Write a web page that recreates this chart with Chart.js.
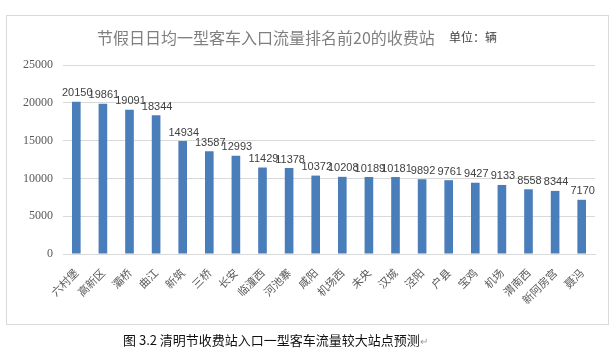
<!DOCTYPE html>
<html>
<head>
<meta charset="utf-8">
<script src="https://cdn.jsdelivr.net/npm/chart.js@4/dist/chart.umd.min.js"></script>
<style>
  html, body { margin: 0; padding: 0; background: #fff; }
  #wrap { position: relative; width: 616px; height: 358px; overflow: hidden; }
  #box { position: absolute; left: 6px; top: 15px; width: 603px; height: 310px; border: 1px solid #d9d9d9; box-sizing: border-box; }
  #cv { position: absolute; left: 0; top: 0; }
  #title { position: absolute; left: 97px; top: 27px; font: 16px "Noto Sans CJK SC", sans-serif; color: #7f7f7f; line-height: 20px; white-space: nowrap; }
  #unit { position: absolute; left: 449px; top: 29px; font: 12px "Noto Sans CJK SC", sans-serif; color: #404040; line-height: 16px; white-space: nowrap; }
  #caption { position: absolute; left: 123px; top: 331px; font: 13px "Noto Sans CJK SC", sans-serif; color: #111; line-height: 18px; white-space: nowrap; }
  #caption span { color: #999; font-size: 10px; }
</style>
</head>
<body>
<div id="wrap">
  <div id="box"></div>
  <canvas id="cv" width="616" height="358"></canvas>
  <div id="title">节假日日均一型客车入口流量排名前20的收费站</div>
  <div id="unit">单位：辆</div>
  <div id="caption">图 3.2 清明节收费站入口一型客车流量较大站点预测<span>↵</span></div>
</div>
<script>
const categories = ["六村堡","高新区","灞桥","曲江","新筑","三桥","长安","临潼西","河池寨","咸阳","机场西","未央","汉城","泾阳","户县","宝鸡","机场","渭南西","新阿房宫","聂冯"];
const values = [20150,19861,19091,18344,14934,13587,12993,11429,11378,10372,10208,10189,10181,9892,9761,9427,9133,8558,8344,7170];
const yTicks = [0,5000,10000,15000,20000,25000];

const labelPlugin = {
  id: 'barLabels',
  afterDatasetsDraw(chart) {
    const ctx = chart.ctx;
    const meta = chart.getDatasetMeta(0);
    ctx.save();
    ctx.font = '11px "Liberation Sans", sans-serif';
    ctx.fillStyle = '#404040';
    ctx.textAlign = 'center';
    ctx.textBaseline = 'bottom';
    meta.data.forEach((bar, i) => {
      ctx.fillText(String(values[i]), bar.x + 1, bar.y - 3);
    });
    ctx.restore();
  }
};

new Chart(document.getElementById('cv'), {
  type: 'bar',
  data: {
    labels: categories,
    datasets: [{
      data: values,
      backgroundColor: '#4a7ebb',
      barPercentage: 0.65,
      categoryPercentage: 0.5
    }]
  },
  options: {
    responsive: false,
    animation: false,
    devicePixelRatio: 1,
    layout: { padding: { left: 0, right: 21, top: 65, bottom: 54 } },
    plugins: { legend: { display: false }, tooltip: { enabled: false } },
    scales: {
      x: {
        grid: { display: false, drawTicks: false },
        border: { display: true, color: '#d9d9d9' },
        ticks: {
          minRotation: 45, maxRotation: 45, padding: 12,
          color: '#595959',
          font: { family: '"Noto Sans CJK SC", sans-serif', size: 11 }
        },
        afterFit(s) { s.height = 50; }
      },
      y: {
        min: 0, max: 25000,
        afterBuildTicks(s) { s.ticks = yTicks.map(v => ({ value: v })); },
        grid: { color: '#d9d9d9', drawTicks: false },
        border: { display: false },
        ticks: {
          padding: 10,
          color: '#595959',
          font: { family: '"Liberation Serif", serif', size: 12 },
          callback: (v) => String(v)
        },
        afterFit(s) { s.width = 63; }
      }
    }
  },
  plugins: [labelPlugin]
});
</script>
</body>
</html>
